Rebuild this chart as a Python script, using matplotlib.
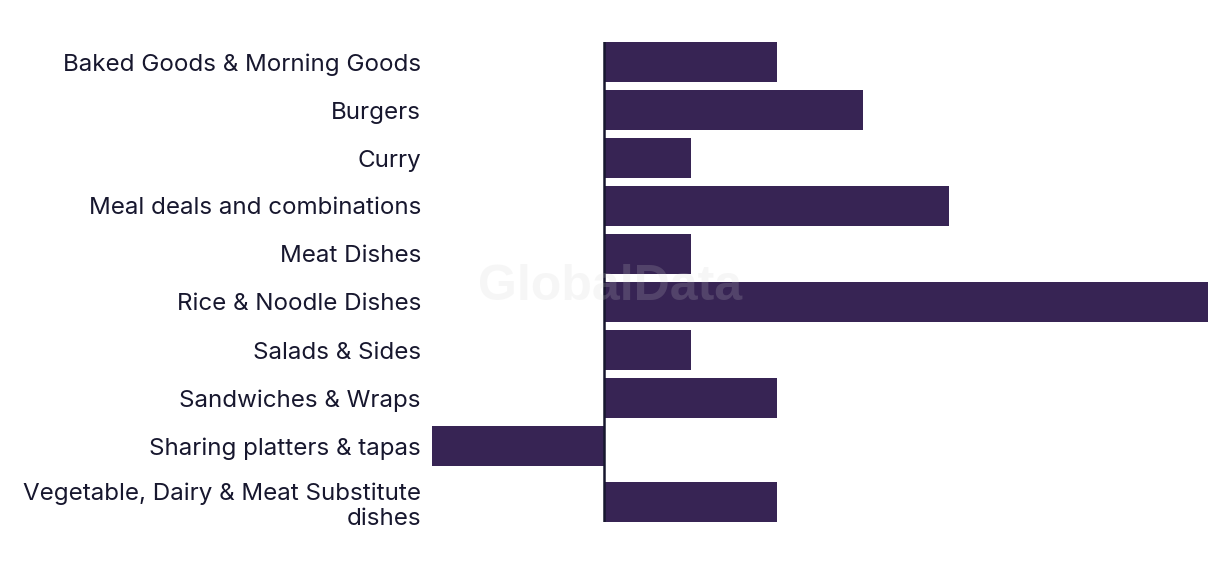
import matplotlib
matplotlib.use("Agg")
import matplotlib.pyplot as plt

categories = [
    "Baked Goods & Morning Goods",
    "Burgers",
    "Curry",
    "Meal deals and combinations",
    "Meat Dishes",
    "Rice & Noodle Dishes",
    "Salads & Sides",
    "Sandwiches & Wraps",
    "Sharing platters & tapas",
    "Vegetable, Dairy & Meat Substitute\ndishes",
]
values = [2, 3, 1, 4, 1, 7, 1, 2, -2, 2]

BAR_COLOR = "#372454"
TEXT_COLOR = "#17172e"

W, H = 1220, 574
fig = plt.figure(figsize=(W / 100, H / 100), dpi=100)
ax = fig.add_axes([432 / W, 1 - 522 / H, 776 / W, 480 / H])

# y positions: one slot per label line; multi-line labels get extra room
positions = []
y = 0.0
prev_extra = 0.0
for i, c in enumerate(categories):
    extra = (c.count("\n")) * (8 / 48)
    if i > 0:
        y += 1 + prev_extra + extra
    positions.append(y)
    prev_extra = extra

bar_h = 40 / 48
ax.barh(positions, values, height=bar_h, color=BAR_COLOR, zorder=2)
ax.set_ylim(positions[-1] + bar_h / 2, positions[0] - bar_h / 2)
ax.set_xlim(min(values), max(values))
ax.axvline(0, color=TEXT_COLOR, linewidth=1.8, zorder=3)

ax.set_yticks(positions)
ax.set_yticklabels(categories, fontsize=17.4, color=TEXT_COLOR, family=["Inter", "DejaVu Sans"],
                   linespacing=1.18)
ax.tick_params(axis="y", length=0, pad=8)
ax.set_xticks([])
for s in ax.spines.values():
    s.set_visible(False)

fig.text(610 / W, 1 - 287 / H, "GlobalData", ha="center", va="center",
         fontsize=36, fontweight="bold", family=["Liberation Sans", "DejaVu Sans"],
         color="#d0d0d0", alpha=0.18, zorder=10)

fig.savefig("out.png", dpi=100)
